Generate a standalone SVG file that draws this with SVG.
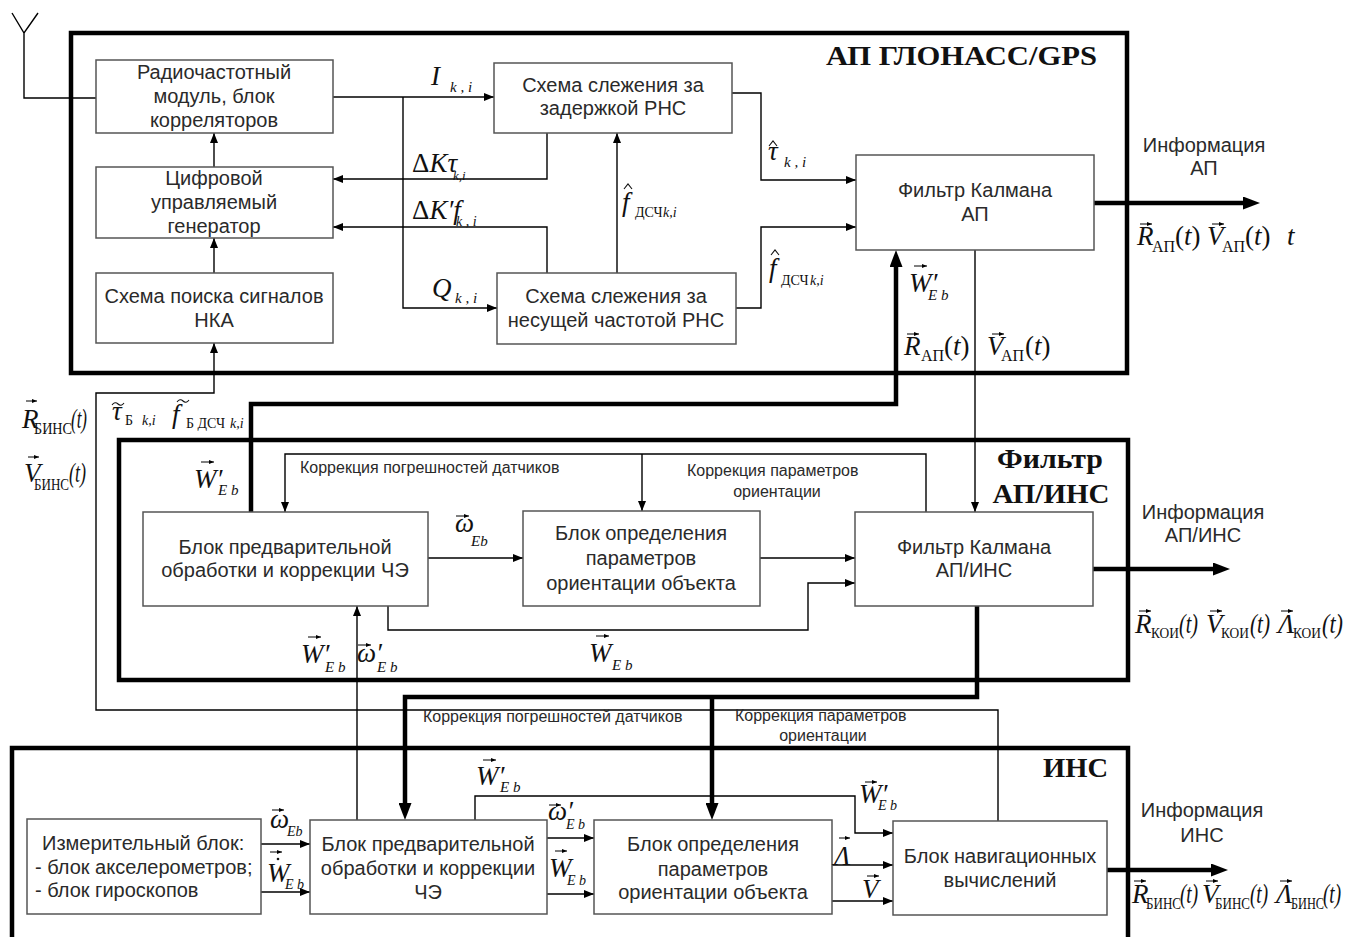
<svg xmlns="http://www.w3.org/2000/svg" width="1346" height="937" viewBox="0 0 1346 937">
<defs>
<marker id="a" viewBox="0 0 10 8" refX="10" refY="4" markerWidth="10" markerHeight="8" markerUnits="userSpaceOnUse" orient="auto"><path d="M0 0L10 4L0 8z" fill="#000"/></marker>
<marker id="A" viewBox="0 0 17 13" refX="5" refY="6.5" markerWidth="17" markerHeight="13" markerUnits="userSpaceOnUse" orient="auto"><path d="M0 0L17 6.5L0 13z" fill="#000"/></marker>
<marker id="v" viewBox="0 0 5 4" refX="5" refY="2" markerWidth="5" markerHeight="4" markerUnits="userSpaceOnUse" orient="auto"><path d="M0 0L5 2L0 4z" fill="#000"/></marker>
</defs>
<style>
.box{fill:#fff;stroke:#555;stroke-width:1.5}
.fr{fill:none;stroke:#000;stroke-width:4.5}
.ln{fill:none;stroke:#000;stroke-width:1.4}
.la{fill:none;stroke:#000;stroke-width:1.4;marker-end:url(#a)}
.th{fill:none;stroke:#000;stroke-width:4.5}
.tha{fill:none;stroke:#000;stroke-width:4.5;marker-end:url(#A)}
.t{font-family:"Liberation Sans",Arial,sans-serif;font-size:20px;fill:#2a2a2a;text-anchor:middle}
.ts{font-family:"Liberation Sans",Arial,sans-serif;font-size:20px;fill:#2a2a2a}
.s{font-family:"Liberation Sans",Arial,sans-serif;font-size:16px;fill:#2a2a2a}
.h{font-family:"Liberation Serif","Times New Roman",serif;font-weight:bold;font-size:28px;fill:#111}
.m{font-family:"Liberation Serif","Times New Roman",serif;font-style:italic;font-size:27px;fill:#111}
.u{font-style:normal}
.va{fill:none;stroke:#000;stroke-width:1;marker-end:url(#v)}
.dc{fill:none;stroke:#111;stroke-width:1.1}
</style>
<rect width="1346" height="937" fill="#fff"/>

<g id="frames">
<rect class="fr" x="71" y="33" width="1056" height="340"/>
<rect class="fr" x="119" y="440" width="1009" height="240"/>
<rect class="fr" x="12" y="748" width="1116" height="200"/>
<text class="h" x="826" y="65" textLength="271" lengthAdjust="spacingAndGlyphs">АП ГЛОНАСС/GPS</text>
<text class="h" x="1050" y="468" text-anchor="middle" textLength="106" lengthAdjust="spacingAndGlyphs">Фильтр</text>
<text class="h" x="1051" y="503" text-anchor="middle" textLength="117" lengthAdjust="spacingAndGlyphs">АП/ИНС</text>
<text class="h" x="1043" y="777" textLength="65" lengthAdjust="spacingAndGlyphs">ИНС</text>
</g>

<g id="connectors">
<path class="ln" d="M12 13L24 33L38 13M24 33V98H96"/>
<path class="la" d="M333 97H494"/>
<path class="la" d="M403 97V308H497"/>
<path class="la" d="M214 167V133"/>
<path class="la" d="M214 273V238"/>
<path class="la" d="M547 133V179H333"/>
<path class="la" d="M547 273V227H333"/>
<path class="la" d="M617 273V133"/>
<path class="la" d="M732 93H761V180H856"/>
<path class="la" d="M736 308H761V227H856"/>
<path class="la" d="M975 250V512"/>
<path class="la" d="M926 512V454H285V512"/>
<path class="la" d="M642 454V511"/>
<path class="la" d="M388 606V630H808V583H855"/>
<path class="la" d="M428 558H523"/>
<path class="la" d="M760 558H855"/>
<path class="la" d="M357 820V606"/>
<path class="la" d="M998 821V710H96V393H214V343"/>
<path class="la" d="M261 844H310"/>
<path class="la" d="M261 892H310"/>
<path class="la" d="M547 838H594"/>
<path class="la" d="M547 894H594"/>
<path class="la" d="M475 820V796H855V833H893"/>
<path class="la" d="M832 865H893"/>
<path class="la" d="M832 901H893"/>
<path class="tha" d="M251 512V404H896V262"/>
<path class="tha" d="M1094 203H1248"/>
<path class="tha" d="M1093 569H1218"/>
<path class="tha" d="M1107 870H1216"/>
<path class="tha" d="M977 606V697H405V808"/>
<path class="tha" d="M712 697V808"/>
</g>

<g id="n-rf">
<rect class="box" x="96" y="60" width="237" height="73"/>
<text class="t" x="214" y="79">Радиочастотный</text>
<text class="t" x="214" y="103">модуль, блок</text>
<text class="t" x="214" y="127">корреляторов</text>
</g>
<g id="n-cug">
<rect class="box" x="96" y="167" width="237" height="71"/>
<text class="t" x="214" y="185">Цифровой</text>
<text class="t" x="214" y="209">управляемый</text>
<text class="t" x="214" y="233">генератор</text>
</g>
<g id="n-search">
<rect class="box" x="96" y="273" width="237" height="70"/>
<text class="t" x="214" y="303">Схема поиска сигналов</text>
<text class="t" x="214" y="327">НКА</text>
</g>
<g id="n-dll">
<rect class="box" x="494" y="63" width="238" height="70"/>
<text class="t" x="613" y="92">Схема слежения за</text>
<text class="t" x="613" y="115">задержкой РНС</text>
</g>
<g id="n-pll">
<rect class="box" x="497" y="273" width="239" height="71"/>
<text class="t" x="616" y="303">Схема слежения за</text>
<text class="t" x="616" y="327">несущей частотой РНС</text>
</g>
<g id="n-kf-ap">
<rect class="box" x="856" y="155" width="238" height="95"/>
<text class="t" x="975" y="197">Фильтр Калмана</text>
<text class="t" x="975" y="221">АП</text>
</g>
<g id="n-pre-f">
<rect class="box" x="143" y="512" width="285" height="94"/>
<text class="t" x="285" y="554">Блок предварительной</text>
<text class="t" x="285" y="577">обработки и коррекции ЧЭ</text>
</g>
<g id="n-ori-f">
<rect class="box" x="523" y="511" width="237" height="95"/>
<text class="t" x="641" y="540">Блок определения</text>
<text class="t" x="641" y="565">параметров</text>
<text class="t" x="641" y="590">ориентации объекта</text>
</g>
<g id="n-kf-ins">
<rect class="box" x="855" y="512" width="238" height="94"/>
<text class="t" x="974" y="554">Фильтр Калмана</text>
<text class="t" x="974" y="577">АП/ИНС</text>
</g>
<g id="n-meas">
<rect class="box" x="27" y="819" width="234" height="95"/>
<text class="ts" x="42" y="850">Измерительный блок:</text>
<text class="ts" x="35" y="874">- блок акселерометров;</text>
<text class="ts" x="35" y="897">- блок гироскопов</text>
</g>
<g id="n-pre-i">
<rect class="box" x="310" y="820" width="237" height="94"/>
<text class="t" x="428" y="851">Блок предварительной</text>
<text class="t" x="428" y="875">обработки и коррекции</text>
<text class="t" x="428" y="899">ЧЭ</text>
</g>
<g id="n-ori-i">
<rect class="box" x="594" y="820" width="238" height="94"/>
<text class="t" x="713" y="851">Блок определения</text>
<text class="t" x="713" y="876">параметров</text>
<text class="t" x="713" y="899">ориентации объекта</text>
</g>
<g id="n-nav">
<rect class="box" x="893" y="821" width="214" height="94"/>
<text class="t" x="1000" y="863">Блок навигационных</text>
<text class="t" x="1000" y="887">вычислений</text>
</g>

<g id="labels">
<text class="t" x="1204" y="152">Информация</text>
<text class="t" x="1204" y="175">АП</text>
<text class="t" x="1203" y="519">Информация</text>
<text class="t" x="1203" y="542">АП/ИНС</text>
<text class="t" x="1202" y="817">Информация</text>
<text class="t" x="1202" y="842">ИНС</text>
<text class="s" x="300" y="473">Коррекция погрешностей датчиков</text>
<text class="s" x="687" y="476">Коррекция параметров</text>
<text class="s" x="777" y="497" text-anchor="middle">ориентации</text>
<text class="s" x="423" y="722">Коррекция погрешностей датчиков</text>
<text class="s" x="735" y="721">Коррекция параметров</text>
<text class="s" x="823" y="741" text-anchor="middle">ориентации</text>

<!-- top frame math -->
<text class="m" x="431" y="85">I<tspan x="450" y="92" font-size="15">k , i</tspan></text>
<text class="m" x="412" y="172" font-size="22"><tspan class="u">Δ</tspan>Kτ<tspan x="453" y="180" font-size="13">k,i</tspan></text>
<text class="m" x="412" y="219" font-size="22"><tspan class="u">Δ</tspan>K′f<tspan x="456" y="226" font-size="14">k , i</tspan></text>
<text class="m" x="432" y="297">Q<tspan x="455" y="303" font-size="15">k , i</tspan></text>
<text class="m" x="622" y="211" font-size="28">f<tspan class="u" x="635" y="217" font-size="14">ДСЧ</tspan><tspan x="663" y="217" font-size="14">k,i</tspan></text>
<path class="dc" d="M624 189L628 184L632 189"/>
<text class="m" x="768" y="160">τ<tspan x="784" y="167" font-size="15">k , i</tspan></text>
<path class="dc" d="M769 146L773 141L777 146"/>
<text class="m" x="769" y="277">f<tspan class="u" x="781" y="285" font-size="14">ДСЧ</tspan><tspan x="810" y="285" font-size="14">k,i</tspan></text>
<path class="dc" d="M771 255L775 250L779 255"/>
<text class="m" x="909" y="292">W′<tspan x="928" y="300" font-size="15">E b</tspan></text>
<path class="va" d="M914 266h13"/>
<text class="m" x="904" y="355">R<tspan class="u" x="921" y="361" font-size="16">АП</tspan><tspan class="u" x="944" y="355">(</tspan>t<tspan class="u">)</tspan></text>
<path class="va" d="M907 334h12"/>
<text class="m" x="987" y="355">V<tspan class="u" x="1001" y="361" font-size="16">АП</tspan><tspan class="u" x="1025" y="355">(</tspan>t<tspan class="u">)</tspan></text>
<path class="va" d="M992 334h12"/>
<text class="m" x="1137" y="245">R<tspan class="u" x="1152" y="252" font-size="16">АП</tspan><tspan class="u" x="1175" y="245">(</tspan>t<tspan class="u">)</tspan></text>
<path class="va" d="M1140 224h12"/>
<text class="m" x="1207" y="245">V<tspan class="u" x="1222" y="252" font-size="16">АП</tspan><tspan class="u" x="1245" y="245">(</tspan>t<tspan class="u">)</tspan></text>
<path class="va" d="M1212 224h12"/>
<text class="m" x="1287" y="245">t</text>

<!-- between top and middle -->
<text class="m" x="22" y="428">R<tspan class="u" x="34" y="434" font-size="16" textLength="38" lengthAdjust="spacingAndGlyphs">БИНС</tspan><tspan x="71" y="428" textLength="16" lengthAdjust="spacingAndGlyphs">(t)</tspan></text>
<path class="va" d="M26 401h11"/>
<text class="m" x="24" y="482">V<tspan class="u" x="34" y="490" font-size="16" textLength="35" lengthAdjust="spacingAndGlyphs">БИНС</tspan><tspan x="69" y="482" textLength="17" lengthAdjust="spacingAndGlyphs">(t)</tspan></text>
<path class="va" d="M28 457h11"/>
<text class="m" x="112" y="420">τ<tspan class="u" x="125" y="425" font-size="14">Б</tspan><tspan x="142" y="425" font-size="14">k,i</tspan></text>
<path class="dc" d="M112 405q3 -4 6 -1t6 -1"/>
<text class="m" x="172" y="423" font-size="28">f<tspan class="u" x="186" y="428" font-size="14">Б ДСЧ</tspan><tspan x="230" y="428" font-size="14">k,i</tspan></text>
<path class="dc" d="M177 402q3 -4 6 -1t6 -1"/>

<!-- middle frame math -->
<text class="m" x="194" y="488">W′<tspan x="218" y="495" font-size="15">E b</tspan></text>
<path class="va" d="M201 462h13"/>
<text class="m" x="455" y="532">ω<tspan x="471" y="546" font-size="15">Eb</tspan></text>
<path class="va" d="M456 516h13"/>
<text class="m" x="589" y="662">W<tspan x="612" y="670" font-size="15">E b</tspan></text>
<path class="va" d="M596 636h13"/>
<text class="m" x="301" y="663">W′<tspan x="325" y="672" font-size="15">E b</tspan></text>
<path class="va" d="M308 637h13"/>
<text class="m" x="357" y="662">ω′<tspan x="377" y="672" font-size="15">E b</tspan></text>
<path class="va" d="M358 645h13"/>
<text class="m" x="1135" y="633">R<tspan class="u" x="1151" y="638" font-size="15" textLength="28" lengthAdjust="spacingAndGlyphs">КОИ</tspan><tspan x="1179" y="633" textLength="19" lengthAdjust="spacingAndGlyphs">(t)</tspan></text>
<path class="va" d="M1139 611h12"/>
<text class="m" x="1206" y="633">V<tspan class="u" x="1221" y="638" font-size="15" textLength="28" lengthAdjust="spacingAndGlyphs">КОИ</tspan><tspan x="1250" y="633" textLength="20" lengthAdjust="spacingAndGlyphs">(t)</tspan></text>
<path class="va" d="M1210 611h12"/>
<text class="m" x="1278" y="633">Λ<tspan class="u" x="1293" y="638" font-size="15" textLength="28" lengthAdjust="spacingAndGlyphs">КОИ</tspan><tspan x="1322" y="633" textLength="21" lengthAdjust="spacingAndGlyphs">(t)</tspan></text>
<path class="va" d="M1281 611h12"/>

<!-- INS math -->
<text class="m" x="270" y="828" font-size="25">ω<tspan x="287" y="836" font-size="14">Eb</tspan></text>
<path class="va" d="M272 810h12"/>
<text class="m" x="267" y="882" font-size="25">W<tspan x="285" y="889" font-size="14">E b</tspan></text>
<circle cx="278" cy="859" r="1.3" fill="#111"/>
<path class="va" d="M270 852h12"/>
<text class="m" x="476" y="785">W′<tspan x="500" y="792" font-size="15">E b</tspan></text>
<path class="va" d="M483 760h13"/>
<text class="m" x="548" y="820" font-size="25">ω′<tspan x="566" y="829" font-size="14">E b</tspan></text>
<path class="va" d="M549 805h12"/>
<text class="m" x="549" y="877" font-size="26">W<tspan x="567" y="885" font-size="14">E b</tspan></text>
<path class="va" d="M555 851h12"/>
<text class="m" x="859" y="803" font-size="26">W′<tspan x="878" y="810" font-size="14">E b</tspan></text>
<path class="va" d="M865 782h12"/>
<text class="m" x="834" y="865" font-size="26">Λ</text>
<path class="va" d="M839 838h11"/>
<text class="m" x="862" y="898" font-size="26">V</text>
<path class="va" d="M867 876h12"/>
<text class="m" x="1132" y="903">R<tspan class="u" x="1146" y="909" font-size="16" textLength="35" lengthAdjust="spacingAndGlyphs">БИНС</tspan><tspan x="1180" y="903" textLength="18" lengthAdjust="spacingAndGlyphs">(t)</tspan></text>
<path class="va" d="M1134 881h12"/>
<text class="m" x="1202" y="903">V<tspan class="u" x="1215" y="909" font-size="16" textLength="35" lengthAdjust="spacingAndGlyphs">БИНС</tspan><tspan x="1250" y="903" textLength="18" lengthAdjust="spacingAndGlyphs">(t)</tspan></text>
<path class="va" d="M1206 881h12"/>
<text class="m" x="1276" y="903">Λ<tspan class="u" x="1291" y="909" font-size="16" textLength="33" lengthAdjust="spacingAndGlyphs">БИНС</tspan><tspan x="1323" y="903" textLength="18" lengthAdjust="spacingAndGlyphs">(t)</tspan></text>
<path class="va" d="M1280 881h12"/>
</g>
</svg>
